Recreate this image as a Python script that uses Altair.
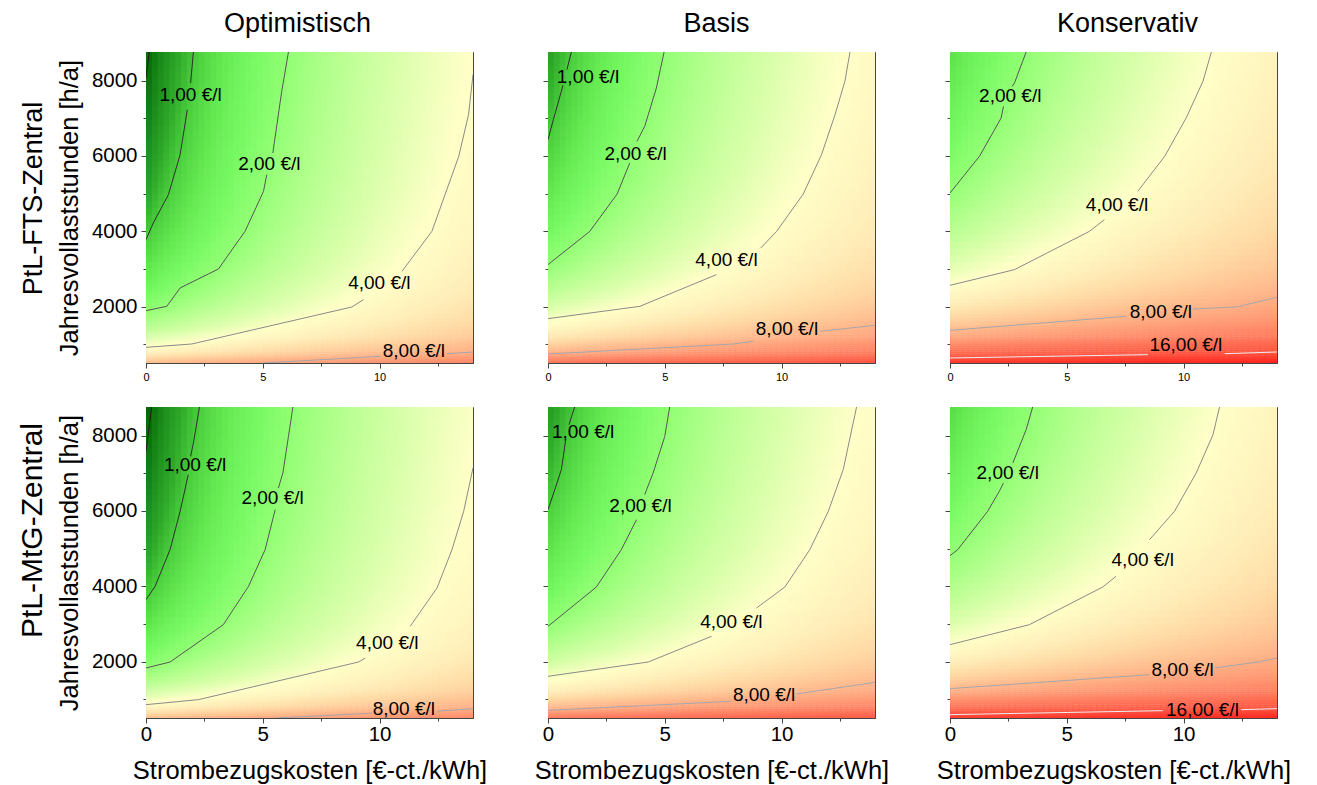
import altair as alt
import numpy as np
import pandas as pd

FONT = "Liberation Sans"

ROW_NAMES = ["PtL-FTS-Zentral", "PtL-MtG-Zentral"]
ROW_FONT = [27, 30]
ROW_TITLE_Y = [146, 123]
COL_NAMES = ["Optimistisch", "Basis", "Konservativ"]
COL_DX = [-12, 5, 14]

X_MAX = 14
H_MIN, H_MAX = 500, 8760
X_TICKS = [0, 2.5, 5, 7.5, 10, 12.5]
Y_TICKS = [1000, 2000, 3000, 4000, 5000, 6000, 7000, 8000]

# cost field per panel (read from the contour positions):
# cost [€/l] = K_FIX / full-load-hours + M_EL * electricity price
K_FIX = [3750, 6300, 10300, 3640, 6000, 9800]
M_EL = [0.258, 0.258, 0.25, 0.25, 0.25, 0.25]

LEVELS = [0.5, 1, 2, 4, 8, 16]
LEVEL_COLORS = ["#1e1e1e", "#2e2e2e", "#555555", "#8a8a8a", "#a6a6ac", "#ececf0"]

HEAT_STOPS = [0.43, 0.6, 0.8, 1.0, 1.3, 1.6, 2.0, 2.5, 3.2, 4.0, 5.0, 6.0, 8.0, 11.3, 16.0, 24.0]
HEAT_COLORS = ["#006400", "#1a8a1a", "#30aa2a", "#4ccf3e", "#66ea52", "#76f862",
               "#92ff74", "#b4ff8e", "#d9ffaa", "#ffffc8", "#ffeeb9", "#ffdaa5",
               "#ffb287", "#ff8264", "#ff5541", "#ff231e"]

# contour pieces: (level, [(price, hours), ...]) -- broken where a label sits
SEG_FTS_OPT = [
    (0.5, [(0, 8070), (0.14, 8760)]),
    (1, [(0, 3776), (0.31, 4218), (0.96, 4971), (1.46, 6033), (1.77, 7228)]),
    (1, [(1.91, 7937), (2.03, 8760)]),
    (2, [(0, 1890), (0.89, 2005), (1.46, 2492), (3.1, 2997), (4.24, 3997), (5.03, 5059), (5.17, 5502)]),
    (2, [(5.43, 6077), (5.81, 7715), (6.1, 8760)]),
    (4, [(0, 916), (1.96, 1005), (8.81, 1987), (9.31, 2182)]),
    (4, [(10.96, 2935), (12.24, 3997), (13.39, 5989), (13.81, 7096), (14, 8158)]),
    (8, [(5.03, 500), (10.03, 677)]),
    (8, [(12.89, 748), (14, 792)]),
]
SEG_FTS_BAS = [
    (1, [(0, 6432), (0.21, 6919), (0.57, 7715), (0.64, 7875)]),
    (1, [(0.81, 8291), (1.0, 8760)]),
    (2, [(0, 3112), (1.79, 3997), (2.96, 4989), (3.5, 5812)]),
    (2, [(3.81, 6387), (4.14, 6786), (4.64, 7804), (4.97, 8760)]),
    (4, [(0, 1678), (3.93, 2005), (7.21, 2846)]),
    (4, [(9.1, 3550), (9.79, 3997), (10.93, 4989), (11.71, 6033), (12.29, 7096), (12.71, 7981), (12.93, 8760)]),
    (8, [(0, 739), (7.93, 1005), (8.79, 1076)]),
    (8, [(11.64, 1341), (14, 1501)]),
]
SEG_FTS_KON = [
    (2, [(0, 5015), (1.26, 5989), (2.19, 7007), (2.29, 7317)]),
    (2, [(2.66, 7850), (2.76, 7937), (3.26, 8760)]),
    (4, [(0, 2563), (2.76, 2979), (5.97, 3997), (6.61, 4307)]),
    (4, [(8.04, 5059), (9.19, 5989), (10.11, 7007), (10.83, 7981), (11.19, 8760)]),
    (8, [(0, 1368), (7.54, 1740)]),
    (8, [(10.4, 1934), (12.26, 1987), (14, 2244)]),
    (16, [(0, 633), (8.47, 722)]),
    (16, [(11.76, 748), (14, 792)]),
]
SEG_MTG_OPT = [
    (0.5, [(0, 7580), (0.24, 8760)]),
    (1, [(0, 3643), (0.39, 3997), (1.03, 4971), (1.46, 5989), (1.81, 6963)]),
    (1, [(1.91, 7450), (2.03, 7804), (2.29, 8760)]),
    (2, [(0, 1828), (1.03, 1987), (3.31, 2979), (4.39, 3997), (5.1, 4971), (5.53, 6033)]),
    (2, [(5.67, 6609), (5.86, 7007), (6.1, 7981), (6.29, 8760)]),
    (4, [(0, 854), (2.24, 987), (9.1, 1987), (9.39, 2094)]),
    (4, [(11.31, 2935), (12.46, 3953), (13.1, 4971), (13.6, 5989), (14, 7140)]),
    (8, [(5.6, 500), (9.67, 628)]),
    (8, [(12.46, 677), (14, 748)]),
]
SEG_MTG_BAS = [
    (1, [(0, 6033), (0.29, 6564), (0.57, 7096), (0.76, 7892)]),
    (1, [(0.9, 8291), (1.14, 8760)]),
    (2, [(0, 2935), (2.07, 3979), (3.14, 4971), (3.79, 5768)]),
    (2, [(4.14, 6432), (4.5, 7007), (5.0, 7981), (5.21, 8760)]),
    (4, [(0, 1607), (4.29, 1987), (7.0, 2669)]),
    (4, [(8.93, 3422), (10.14, 3979), (11.21, 4971), (12.0, 5989), (12.64, 7096), (13.21, 8760)]),
    (8, [(0, 704), (7.86, 943)]),
    (8, [(10.64, 1138), (14, 1448)]),
]
SEG_MTG_KON = [
    (2, [(0, 4812), (0.33, 4971), (1.61, 5989), (2.11, 6520), (2.29, 6742)]),
    (2, [(2.69, 7273), (3.26, 8158), (3.54, 8760)]),
    (4, [(0, 2448), (3.4, 2979), (6.54, 3979), (7.11, 4263)]),
    (4, [(8.54, 5236), (9.61, 5989), (10.54, 7007), (11.26, 8025), (11.54, 8760)]),
    (8, [(0, 1280), (8.54, 1651)]),
    (8, [(11.33, 1828), (13.19, 1987), (14, 2093)]),
    (16, [(0, 589), (9.11, 695)]),
    (16, [(12.47, 721), (14, 748)]),
]
SEGMENTS = [SEG_FTS_OPT, SEG_FTS_BAS, SEG_FTS_KON, SEG_MTG_OPT, SEG_MTG_BAS, SEG_MTG_KON]

LAB_FTS_OPT = [("1,00 €/l", 1.91, 7610), ("2,00 €/l", 5.28, 5785), ("4,00 €/l", 9.99, 2625), ("8,00 €/l", 11.47, 810)]
LAB_FTS_BAS = [("1,00 €/l", 1.71, 8088), ("2,00 €/l", 3.75, 6051), ("4,00 €/l", 7.64, 3246), ("8,00 €/l", 10.23, 1414)]
LAB_FTS_KON = [("2,00 €/l", 2.58, 7583), ("4,00 €/l", 7.15, 4707), ("8,00 €/l", 9.03, 1854), ("16,00 €/l", 10.1, 989)]
LAB_MTG_OPT = [("1,00 €/l", 2.1, 7230), ("2,00 €/l", 5.42, 6343), ("4,00 €/l", 10.33, 2492), ("8,00 €/l", 11.04, 739)]
LAB_MTG_BAS = [("1,00 €/l", 1.5, 8088), ("2,00 €/l", 3.96, 6123), ("4,00 €/l", 7.85, 3042), ("8,00 €/l", 9.25, 1111)]
LAB_MTG_KON = [("2,00 €/l", 2.47, 7007), ("4,00 €/l", 8.25, 4707), ("8,00 €/l", 9.96, 1785), ("16,00 €/l", 10.81, 723)]
LABELS = [LAB_FTS_OPT, LAB_FTS_BAS, LAB_FTS_KON, LAB_MTG_OPT, LAB_MTG_BAS, LAB_MTG_KON]

# ---------------- tables ----------------
P_EDGES = np.arange(0, X_MAX + 0.001, 0.25)
H_EDGES = np.concatenate([np.arange(500, 1500, 50), np.arange(1500, 3000, 100),
                          np.arange(3000, 8760, 180), [8760]])

heat_rows = []
for i in range(6):
    for a, b in zip(P_EDGES[:-1], P_EDGES[1:]):
        for c0, d0 in zip(H_EDGES[:-1], H_EDGES[1:]):
            pc, hc = (a + b) / 2, (c0 + d0) / 2
            heat_rows.append({
                "panel": i, "p": float(a), "p2": float(min(b + 0.06, X_MAX)),
                "h": float(c0), "h2": float(min(d0 + (d0 - c0) * 0.2, H_MAX)),
                "c": round(K_FIX[i] / hc + M_EL[i] * pc, 3),
            })
heat_df = pd.DataFrame(heat_rows)

line_rows = []
for i, segs in enumerate(SEGMENTS):
    for s, (lvl, pts) in enumerate(segs):
        for k, (p, h) in enumerate(pts):
            line_rows.append({"panel": i, "seg": f"{i}-{s}", "o": k, "p": p, "h": h,
                              "col": LEVEL_COLORS[LEVELS.index(lvl)]})
line_df = pd.DataFrame(line_rows)

lab_rows = []
for i, labs in enumerate(LABELS):
    for t, p, h in labs:
        lab_rows.append({"panel": i, "t": t, "p": p, "h": h})
lab_df = pd.DataFrame(lab_rows)

rowlab_df = pd.DataFrame({"h": [H_MIN]})

# ---------------- chart ----------------
xs = alt.Scale(domain=[0, X_MAX], nice=False, zero=False)
ys = alt.Scale(domain=[H_MIN, H_MAX], nice=False, zero=False)
heat_scale = alt.Scale(type="log", domain=HEAT_STOPS, range=HEAT_COLORS,
                       interpolate="rgb", clamp=True)


def x_axis(bottom):
    kw = dict(values=X_TICKS,
              labelExpr="datum.value % 5 === 0 ? format(datum.value, 'd') : ''",
              tickSize={"condition": {"test": "datum.value % 5 === 0", "value": 5}, "value": 3},
              grid=False, labelOverlap=False, labelFlush=False,
              labelFontSize=20.5 if bottom else 11,
              labelPadding=1 if bottom else 3)
    if bottom:
        kw.update(title="Strombezugskosten [€-ct./kWh]", titleFontSize=25.5, titlePadding=14)
    else:
        kw.update(title=None)
    return alt.Axis(**kw)


def y_axis(left):
    kw = dict(values=Y_TICKS,
              tickSize={"condition": {"test": "datum.value % 2000 === 0", "value": 5}, "value": 3},
              grid=False, labelOverlap=False, labelFlush=False)
    if left:
        kw.update(labelExpr="datum.value % 2000 === 0 ? format(datum.value, 'd') : ''",
                  labelFontSize=20.5, labelPadding=4,
                  title="Jahresvollaststunden [h/a]", titleFontSize=25.5, titlePadding=9)
    else:
        kw.update(labels=False, title=None)
    return alt.Axis(**kw)


panels = []
for i in range(6):
    r, c = divmod(i, 3)
    xa = x_axis(r == 1)
    ya = y_axis(c == 0)
    heat = alt.Chart(heat_df).transform_filter(alt.datum.panel == i).mark_rect().encode(
        x=alt.X("p:Q", scale=xs, axis=xa),
        x2="p2:Q",
        y=alt.Y("h:Q", scale=ys, axis=ya),
        y2="h2:Q",
        fill=alt.Fill("c:Q", scale=heat_scale, legend=None),
    )
    lines = alt.Chart(line_df).transform_filter(alt.datum.panel == i).mark_line(
        strokeWidth=1, clip=True).encode(
        x=alt.X("p:Q", scale=xs, axis=xa),
        y=alt.Y("h:Q", scale=ys, axis=ya),
        detail="seg:N",
        order="o:Q",
        stroke=alt.Stroke("col:N", scale=None),
    )
    texts = alt.Chart(lab_df).transform_filter(alt.datum.panel == i).mark_text(
        font=FONT, fontSize=19, color="#000000", align="center", baseline="middle").encode(
        x=alt.X("p:Q", scale=xs, axis=xa),
        y=alt.Y("h:Q", scale=ys, axis=ya),
        text="t:N",
    )
    panel = alt.layer(heat, lines, texts)
    if c == 0:
        rowlab = alt.Chart(rowlab_df).mark_point(opacity=0).encode(
            y=alt.Y("h:Q", scale=alt.Scale(domain=[H_MIN, H_MAX], nice=False, zero=False),
                    axis=alt.Axis(orient="left", title=ROW_NAMES[r], titleFontSize=ROW_FONT[r],
                                  labels=False, ticks=False, domain=False, grid=False,
                                  titleX=-105, titleY=ROW_TITLE_Y[r], titleAngle=270,
                                  titleAlign="center", titleBaseline="alphabetic"))
        )
        panel = alt.layer(panel, rowlab).resolve_scale(y="independent")
    props = dict(width=327, height=311)
    if r == 0:
        props["title"] = alt.TitleParams(text=COL_NAMES[c], fontSize=27, font=FONT,
                                         fontWeight="normal", color="#000000", anchor="middle",
                                         frame="group", offset=-7, baseline="alphabetic",
                                         dx=COL_DX[c])
    panels.append(panel.properties(**props))

chart = alt.concat(*panels, columns=3, spacing={"row": 44, "column": 75}, bounds="flush").properties(
    padding={"left": 8, "top": 1, "right": 5, "bottom": 0}
).configure_view(stroke="#444444", strokeWidth=1).configure_axis(
    domainColor="#444444", tickColor="#444444", labelColor="#000000", titleColor="#000000",
    labelFont=FONT, titleFont=FONT, titleFontWeight="normal", domainWidth=1, tickWidth=1
).configure_title(font=FONT, fontWeight="normal", color="#000000")

chart.save("out.html", embed_options={"renderer": "svg", "actions": False})
